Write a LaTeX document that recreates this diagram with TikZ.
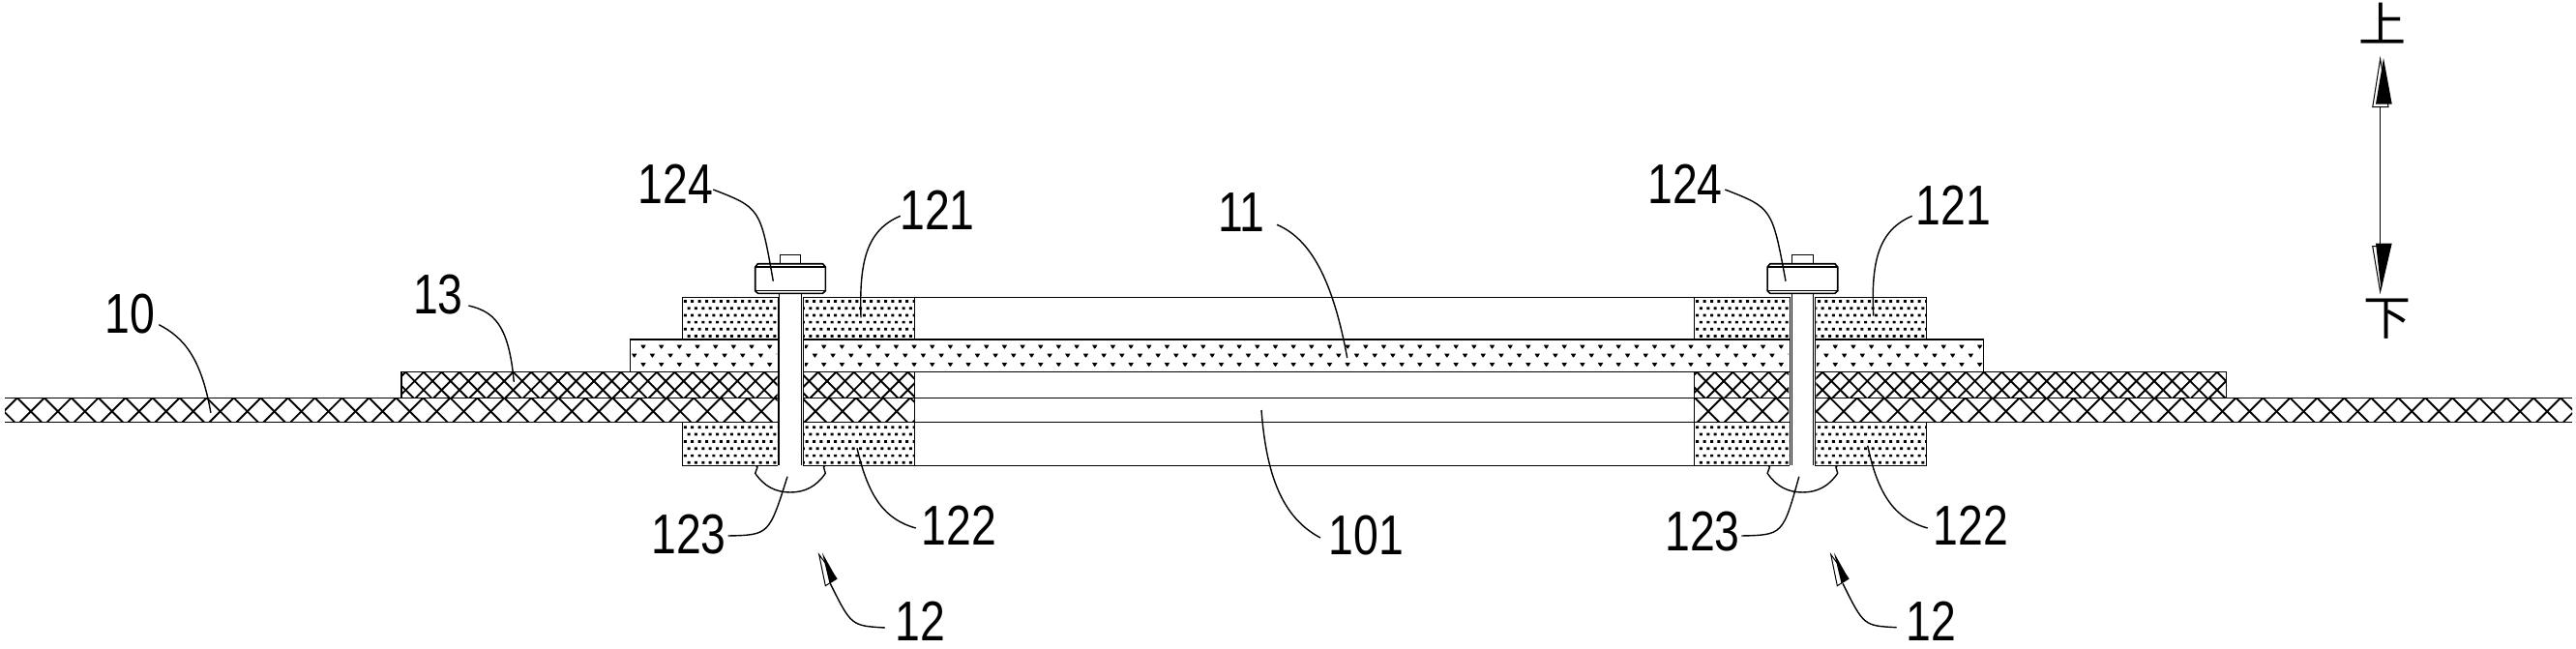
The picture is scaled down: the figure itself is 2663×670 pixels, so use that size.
\documentclass[tikz,border=0pt]{standalone}
\usepackage{fontspec}
\setmainfont[FakeStretch=0.8]{Liberation Sans}
\newfontfamily\cjkfont{Noto Sans CJK SC}
\tikzset{
  outline/.style={draw=black,line width=1.1pt},
  thinline/.style={draw=black,line width=0.7pt},
  leader/.style={draw=black,line width=1.4pt},
  hatchline/.style={draw=black,line width=1.9pt},
  numlabel/.style={inner sep=0pt,outer sep=0pt,font=\fontsize{58}{58}\selectfont},
  cjklabel/.style={inner sep=0pt,outer sep=0pt,font=\cjkfont\fontsize{49}{49}\selectfont},
}
% marks of the two dotted materials
\newcommand{\heartmark}[2]{(#1-2.7,#2-1.7) -- (#1+2.7,#2-1.7) -- (#1+1.2,#2+1) -- (#1,#2+2.4) -- (#1-1.2,#2+1) -- cycle}
\newcommand{\finemark}[2]{(#1-1.5,#2-1.35) rectangle (#1+1.5,#2+1.35)}
% clip rectangles: left of the bolts, between, right
\newcommand{\clipsheet}[4]{\clip (#1,#3) rectangle (803.5,#4) (831,#3) rectangle (945.3,#4) (1751.7,#3) rectangle (1849.2,#4) (1877.4,#3) rectangle (#2,#4);}
\begin{document}
\begin{tikzpicture}[x=1pt,y=-1pt]
\useasboundingbox (0,0) rectangle (2663,670);

% --- hatching of sheet 10
\begin{scope}
  \clipsheet{5}{2659}{411.3}{436.7}
  \foreach \k in {-1,...,97}{
    \pgfmathsetmacro{\xa}{17.9+27.97*\k}
    \draw[hatchline] (\xa,411.3) -- ++(26,26);
    \draw[hatchline] (\xa,411.3) -- ++(-26,26);
  }
\end{scope}
% --- hatching of sheet 13
\begin{scope}
  \clipsheet{415}{2301.7}{384.7}{411.3}
  \foreach \k in {-1,...,104}{
    \pgfmathsetmacro{\xa}{400.8+18.54*\k}
    \draw[hatchline] (\xa,384.7) -- ++(27,27);
    \draw[hatchline] (\xa,384.7) -- ++(-27,27);
  }
\end{scope}
% --- dots of tape 11
\begin{scope}
  \clip (651.3,351) rectangle (803,384.7) (832,351) rectangle (1848.5,384.7) (1878,351) rectangle (2050.3,384.7);
  \foreach \k in {0,...,75}{
    \pgfmathsetmacro{\xa}{665+18.67*\k}
    \pgfmathsetmacro{\xb}{655.7+18.67*\k}
    \fill \heartmark{\xa}{358.3} \heartmark{\xb}{367.3} \heartmark{\xa}{376.7};
  }
\end{scope}
% --- fine dots of the four plates
\foreach \bx in {0,1046.4}{
\begin{scope}[xshift=\bx pt]
  \clip (705.3,307.3) rectangle (803,351) (831,307.3) rectangle (945.3,351)
        (705.3,436.3) rectangle (803,481.3) (831,436.3) rectangle (945.3,481.3);
  \foreach \c in {0,...,32}{
    \pgfmathsetmacro{\xa}{708.3+7.4*\c}
    \pgfmathsetmacro{\xb}{712+7.4*\c}
    \fill \finemark{\xa}{311.5} \finemark{\xb}{318.7} \finemark{\xa}{325.9}
          \finemark{\xb}{333.1} \finemark{\xa}{340.3} \finemark{\xb}{347.5}
          \finemark{\xa}{441.7} \finemark{\xb}{449} \finemark{\xa}{456.4}
          \finemark{\xb}{463.8} \finemark{\xa}{471.1} \finemark{\xb}{478.3};
  }
\end{scope}
}

% --- outlines
% sheet 10 (open at both ends)
\draw[outline] (5,411.3) -- (804,411.3) (5,436.5) -- (804,436.5)
               (830,411.3) -- (1850.4,411.3) (830,436.5) -- (1850.4,436.5)
               (1876.4,411.3) -- (2659,411.3) (1876.4,436.5) -- (2659,436.5);
% sheet 13
\draw[outline] (415,411.3) -- (415,384.7) -- (804,384.7)
               (830,384.7) -- (1850.4,384.7)
               (1876.4,384.7) -- (2301.7,384.7) -- (2301.7,411.3);
% tape 11
\draw[outline] (651.3,384.7) -- (651.3,351) -- (804,351)
               (830,351) -- (1850.4,351)
               (1876.4,351) -- (2050.3,351) -- (2050.3,384.7);
% plates and middle lines
\draw[outline] (705.3,351) -- (705.3,307.3) -- (804,307.3)
               (830,307.3) -- (1850.4,307.3)
               (1876.4,307.3) -- (1991.7,307.3) -- (1991.7,351);
\draw[outline] (705.3,436.5) -- (705.3,481.3) -- (804,481.3)
               (830,481.3) -- (1850.4,481.3)
               (1876.4,481.3) -- (1991.7,481.3) -- (1991.7,436.5);
\draw[outline] (945.3,307.3) -- (945.3,351) (945.3,384.7) -- (945.3,481.3)
               (1751.7,307.3) -- (1751.7,351) (1751.7,384.7) -- (1751.7,481.3);

% --- bolts
\foreach \bx in {0,1046.4}{
\begin{scope}[xshift=\bx pt]
  \draw[thinline] (804,307.3) -- (804,481.3) (830,307.3) -- (830,481.3);
  \draw[thinline] (805.7,303.3) -- (805.7,481.3) (828.3,303.3) -- (828.3,481.3);
  \draw[outline] (806.3,272.7) -- (806.3,263.3) -- (827.7,263.3) -- (827.7,272.7);
  \draw[draw=black,line width=1.6pt]
     (783.5,272.7) -- (850.5,272.7) -- (853.3,276) -- (853.3,300.7) -- (850.5,303.3)
     -- (783.5,303.3) -- (780.7,300.7) -- (780.7,276) -- cycle;
  \draw[outline] (780.7,276) -- (853.3,276) (780.7,300.7) -- (853.3,300.7);
  \draw[draw=black,line width=1.4pt]
     (781.5,481.3) -- (783,483) -- (780.7,489.3)
     .. controls (790,503) and (802,509) .. (817,509)
     .. controls (832,509) and (844,503) .. (853.3,489.3)
     -- (851.5,483) -- (853,481.3);
\end{scope}
}

% --- labels
\node[numlabel] (l10) at (134.6,324.2) {10};
\node[numlabel] (l13) at (453,305) {13};
\node[numlabel] (l124a) at (698.3,190) {124};
\node[numlabel] (l121a) at (969,217.5) {121};
\node[numlabel] (l122a) at (991.5,543.3) {122};
\node[numlabel] (l123a) at (712,552.2) {123};
\node[numlabel] (l12a) at (951,642) {12};
\node[numlabel] (l11) at (1283.3,220) {11};
\node[numlabel] (l101) at (1412.5,554) {101};
\node[numlabel] (l124b) at (1742,190) {124};
\node[numlabel] (l121b) at (2019.2,212.5) {121};
\node[numlabel] (l122b) at (2037.3,543.3) {122};
\node[numlabel] (l123b) at (1760,550) {123};
\node[numlabel] (l12b) at (1996.7,642.2) {12};
\node[cjklabel] (up) at (2462.5,24) {上};
\node[cjklabel] (down) at (2467.5,330) {下};

% --- leader start and end points
\coordinate (s10) at (164.3,335.7);   \coordinate (e10) at (217.9,426.7);
\coordinate (s13) at (484.4,316);     \coordinate (e13) at (531.3,395);
\coordinate (s124a) at (737.3,196);   \coordinate (e124a) at (799.3,290.7);
\coordinate (s121a) at (930.7,223.3); \coordinate (e121a) at (890,328.3);
\coordinate (s122a) at (946.7,546);   \coordinate (e122a) at (886,463.3);
\coordinate (s123a) at (752.7,554);   \coordinate (e123a) at (814,492.7);
\coordinate (s12a) at (915,649);      \coordinate (e12a) at (858.3,603.3);
\coordinate (s11) at (1320,232.3);    \coordinate (e11) at (1392.7,370);
\coordinate (s101) at (1365,556);     \coordinate (e101) at (1304,424);
\coordinate (s124b) at (1783.3,196);  \coordinate (e124b) at (1846,290.7);
\coordinate (s121b) at (1976.7,223.3);\coordinate (e121b) at (1936.7,326.7);
\coordinate (s122b) at (1992.7,546);  \coordinate (e122b) at (1930.7,460.7);
\coordinate (s123b) at (1800.4,554);  \coordinate (e123b) at (1859.8,492.7);
\coordinate (s12b) at (1960.7,648.7); \coordinate (e12b) at (1905,603.3);

% --- leaders
\draw[leader] (s10) .. controls (190,349) and (208,370) .. (e10);
\draw[leader] (s13) .. controls (510,322) and (526,335) .. (e13);
\draw[leader] (s124a) .. controls (786,215) .. (e124a);
\draw[leader] (s121a) .. controls (896,238) and (888,270) .. (e121a);
\draw[leader] (s122a) .. controls (915,537) and (898,515) .. (e122a);
\draw[leader] (s123a) .. controls (795,553) .. (e123a);
\draw[leader] (s12a) .. controls (880,647) .. (e12a);
\draw[leader] (s11) .. controls (1355,247) and (1378,290) .. (e11);
\draw[leader] (s101) .. controls (1325,535) and (1309,490) .. (e101);
\draw[leader] (s124b) .. controls (1832,215) .. (e124b);
\draw[leader] (s121b) .. controls (1942,238) and (1934,270) .. (e121b);
\draw[leader] (s122b) .. controls (1961,537) and (1942,515) .. (e122b);
\draw[leader] (s123b) .. controls (1843,553) .. (e123b);
\draw[leader] (s12b) .. controls (1926.7,647) .. (e12b);

% --- arrow heads of the two 12 leaders
\foreach \bx in {0,1046}{
\begin{scope}[xshift=\bx pt]
  \draw[line width=1pt] (846.7,573.3) -- (853.3,605.7) -- (865,598.3) -- cycle;
  \fill (850,571.5) -- (865,598.3) -- (857.5,603) -- cycle;
\end{scope}
}

% --- up/down arrow
\coordinate (dirtop) at (2460.3,110);
\coordinate (dirbot) at (2460.3,252);
\draw[line width=1.1pt] (dirtop) -- (dirbot);
\draw[line width=1pt] (2460.6,61) -- (2452.7,110.7) -- (2469,110.7) -- cycle;
\fill (2464,60) -- (2456,107.5) -- (2472.7,107.5) -- cycle;
\draw[line width=1pt] (2460.6,301.5) -- (2452.7,254.7) -- (2469,254.7) -- cycle;
\fill (2461.5,300) -- (2456,251.5) -- (2472.7,251.5) -- cycle;
\end{tikzpicture}
\end{document}
